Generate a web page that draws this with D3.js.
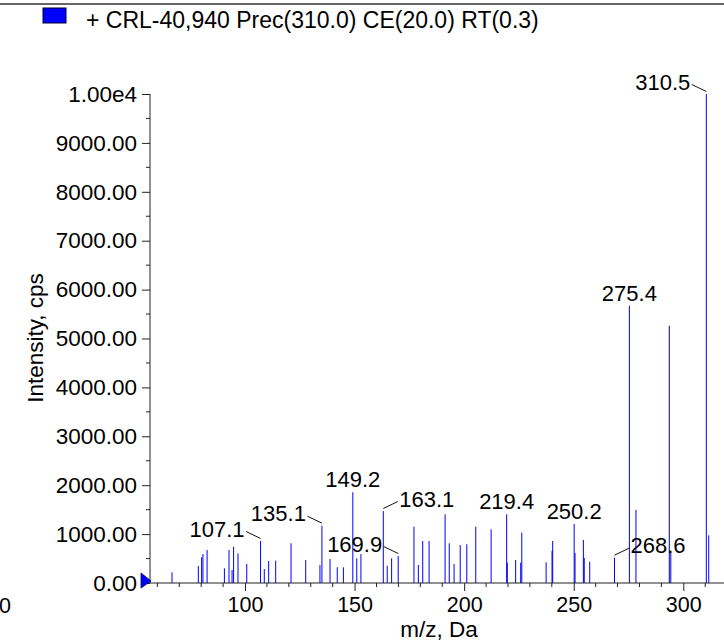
<!DOCTYPE html>
<html>
<head>
<meta charset="utf-8">
<script src="https://cdn.jsdelivr.net/npm/d3@7"></script>
<style>
  html, body { margin: 0; padding: 0; background: #fff; }
  svg { display: block; font-family: "Liberation Sans", Arial, sans-serif; }
</style>
</head>
<body>
<svg id="chart" width="724" height="641"></svg>
<script>
// ---- data ----
const legendLabel = "+ CRL-40,940 Prec(310.0) CE(20.0) RT(0.3)";
const xTitle = "m/z, Da";
const yTitle = "Intensity, cps";
const xTickValues = [100, 150, 200, 250, 300];
const yTickValues = [0, 1000, 2000, 3000, 4000, 5000, 6000, 7000, 8000, 9000, 10000];
const yTickLabels = ["0.00", "1000.00", "2000.00", "3000.00", "4000.00", "5000.00",
                     "6000.00", "7000.00", "8000.00", "9000.00", "1.00e4"];

const peakMz = [66.7, 78.7, 80.2, 80.8, 82.7, 90.6, 92.7, 94.1, 94.8, 96.8,
                100.8, 107.1, 108.8, 110.8, 114.0, 121.0, 127.7, 134.2, 135.1, 138.8,
                142.1, 144.9, 149.2, 151.0, 152.9, 163.1, 164.9, 166.9, 169.9, 177.1,
                179.1, 181.1, 184.0, 191.3, 193.2, 195.4, 198.2, 201.2, 205.3, 212.3,
                219.4, 219.7, 223.5, 225.8, 226.3, 237.4, 240.1, 240.4, 250.2, 250.6,
                254.4, 254.8, 257.3, 268.6, 275.4, 278.4, 294.3, 310.5, 311.6];
const peakIntensity = [219, 348, 526, 593, 675, 301, 675, 266, 742, 607,
                       389, 859, 286, 450, 456, 812, 470, 368, 1172, 491,
                       321, 321, 1855, 505, 593, 1472, 354, 505, 552, 1151,
                       368, 859, 859, 1405, 812, 389, 777, 791, 1151, 1098,
                       1405, 415, 470, 415, 1029, 423, 654, 859, 1207, 613,
                       879, 511, 436, 517, 5671, 1493, 620, 10000, 975];
// highlighted (dark) peak
const darkPeakMz = [293.6];
const darkPeakIntensity = [5262];

const labelMz = [310.5, 275.4, 268.6, 250.2, 219.4, 169.9, 163.1, 149.2, 135.1, 107.1];
const strayLabel = "0";

// ---- layout (not data) ----
const labelLayout = {
  "310.5": {side: "left"}, "275.4": {side: "top"}, "268.6": {side: "right"},
  "250.2": {side: "top"}, "219.4": {side: "top"}, "169.9": {side: "left"},
  "163.1": {side: "right"}, "149.2": {side: "top"}, "135.1": {side: "left"},
  "107.1": {side: "left"}
};

const svg = d3.select("#chart");
const axisColor = "#222";
const blue = "#0000ff";

const x = d3.scaleLinear().domain([56.65, 318.57]).range([150, 724]);
const y = d3.scaleLinear().domain([0, 10000]).range([583, 94]);

// top rule
svg.append("line").attr("x1", 0).attr("x2", 724).attr("y1", 4).attr("y2", 4)
  .attr("stroke", "#333").attr("stroke-width", 1.5);

// legend
svg.append("rect").attr("x", 43).attr("y", 8).attr("width", 23).attr("height", 15)
  .attr("fill", blue).attr("stroke", "#000033").attr("stroke-width", 1);
svg.append("text").attr("x", 86).attr("y", 28).attr("font-size", 23)
  .attr("fill", "#000").text(legendLabel);

// peaks
const peaks = peakMz.map((m, i) => ({mz: m, v: peakIntensity[i]}));
svg.append("g").selectAll("line").data(peaks).join("line")
  .attr("x1", d => x(d.mz)).attr("x2", d => x(d.mz))
  .attr("y1", y(0)).attr("y2", d => y(d.v))
  .attr("stroke", blue).attr("stroke-width", 1);
const dark = darkPeakMz.map((m, i) => ({mz: m, v: darkPeakIntensity[i]}));
svg.append("g").selectAll("line").data(dark).join("line")
  .attr("x1", d => x(d.mz)).attr("x2", d => x(d.mz))
  .attr("y1", y(0)).attr("y2", d => y(d.v))
  .attr("stroke", "#00008b").attr("stroke-width", 1);

// axes
const yAxis = d3.axisLeft(y).tickValues(yTickValues)
  .tickFormat((d, i) => yTickLabels[i]).tickSize(8).tickPadding(5);
const gy = svg.append("g").attr("transform", "translate(150,0)").call(yAxis);
gy.select(".domain").remove();
gy.selectAll(".tick line").attr("stroke", axisColor);
gy.selectAll(".tick text").attr("font-size", 22.5).attr("fill", "#000")
  .attr("font-family", "Liberation Sans, Arial, sans-serif");
// y minor ticks
const yMinor = d3.range(500, 10000, 1000);
svg.append("g").selectAll("line").data(yMinor).join("line")
  .attr("x1", 146).attr("x2", 150).attr("y1", d => y(d)).attr("y2", d => y(d))
  .attr("stroke", axisColor);
svg.append("line").attr("x1", 150).attr("x2", 150).attr("y1", y(10000)).attr("y2", y(0))
  .attr("stroke", axisColor);

const xAxis = d3.axisBottom(x).tickValues(xTickValues).tickSize(8).tickPadding(6)
  .tickFormat(d3.format("d"));
const gx = svg.append("g").attr("transform", `translate(0,${y(0)})`).call(xAxis);
gx.select(".domain").remove();
gx.selectAll(".tick line").attr("stroke", axisColor);
gx.selectAll(".tick text").attr("font-size", 21.5).attr("fill", "#000")
  .attr("font-family", "Liberation Sans, Arial, sans-serif");
const xMinor = d3.range(60, 320, 10).filter(v => v % 50 !== 0);
svg.append("g").selectAll("line").data(xMinor).join("line")
  .attr("x1", d => x(d)).attr("x2", d => x(d))
  .attr("y1", y(0)).attr("y2", y(0) + 4).attr("stroke", axisColor);
svg.append("line").attr("x1", 141).attr("x2", 724).attr("y1", y(0)).attr("y2", y(0))
  .attr("stroke", axisColor);

// origin marker
svg.append("path")
  .attr("d", `M141,${y(0) - 10}L151,${y(0) - 2}L141,${y(0) + 5}Z`)
  .attr("fill", blue).attr("stroke", "#000044").attr("stroke-width", 0.8);

// titles
svg.append("text").attr("x", 439).attr("y", 637).attr("text-anchor", "middle")
  .attr("font-size", 22.5).attr("fill", "#000").text(xTitle);
svg.append("text").attr("transform", "translate(43,338) rotate(-90)")
  .attr("text-anchor", "middle").attr("font-size", 22.5).attr("fill", "#000").text(yTitle);
svg.append("text").attr("x", -1).attr("y", 613).attr("font-size", 21.5)
  .attr("fill", "#000").text(strayLabel);

// peak labels
const allPeaks = peaks.concat(dark);
labelMz.forEach(m => {
  const p = allPeaks.reduce((a, b) => Math.abs(b.mz - m) < Math.abs(a.mz - m) ? b : a);
  const px = x(p.mz), py = y(p.v);
  const txt = m.toFixed(1);
  const side = labelLayout[txt].side;
  const t = svg.append("text").attr("font-size", 22).attr("fill", "#000").text(txt);
  if (side === "top") {
    t.attr("x", px).attr("y", py - 5).attr("text-anchor", "middle");
  } else {
    const s = side === "left" ? -1 : 1;
    t.attr("x", px + s * 16).attr("y", py - 4.3)
      .attr("text-anchor", side === "left" ? "end" : "start");
    svg.append("line")
      .attr("x1", px).attr("y1", py - 2.5)
      .attr("x2", px + s * 14.5).attr("y2", py - 9.5)
      .attr("stroke", "#111").attr("stroke-width", 1);
  }
});
</script>
</body>
</html>
